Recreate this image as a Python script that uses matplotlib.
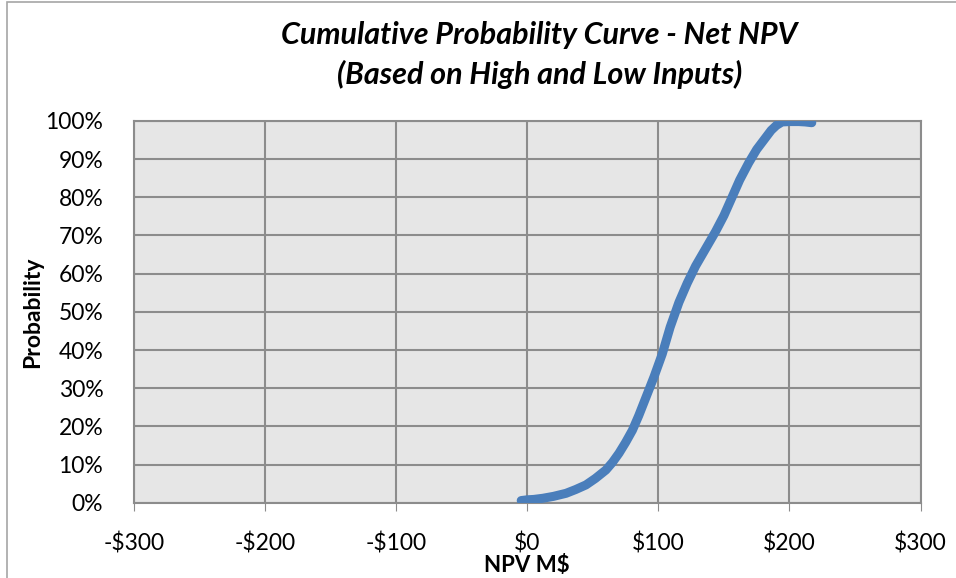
import numpy as np
import matplotlib.pyplot as plt
from matplotlib.patches import Rectangle
from matplotlib.ticker import FuncFormatter, MultipleLocator

# cumulative curve
npv = [-4.6, 0, 5, 11.9, 20, 29.6, 37, 44.8, 52, 60, 65, 70, 75, 80.2, 85, 90.4,
       96.7, 103, 109, 115.7, 122, 128.4, 136, 143.6, 150, 156.2, 162, 168.9,
       175, 181.6, 186, 190, 194.3, 200, 207, 212, 217]
prob = [0.006, 0.008, 0.009, 0.012, 0.017, 0.025, 0.035, 0.047, 0.064, 0.086,
        0.106, 0.13, 0.158, 0.19, 0.228, 0.275, 0.33, 0.39, 0.46, 0.525, 0.575,
        0.62, 0.665, 0.71, 0.752, 0.80, 0.845, 0.89, 0.925, 0.955, 0.975,
        0.988, 0.997, 0.998, 0.998, 0.997, 0.995]

xticks = [-300, -200, -100, 0, 100, 200, 300]
title = "Cumulative Probability Curve - Net NPV\n(Based on High and Low Inputs)"

plt.rcParams['font.family'] = ['Lato', 'DejaVu Sans']

fig = plt.figure(figsize=(9.56, 5.78), dpi=100)
ax = fig.add_axes([0.140, 0.130, 0.823, 0.661])

# chart border
fig.patches.append(Rectangle((0.007, -0.1), 1.2, 1.097, transform=fig.transFigure,
                             fill=False, edgecolor='#A6A6A6', linewidth=1.2))

ax.set_facecolor('#E6E6E6')
ax.plot(npv, prob, color='#4A7EBB', linewidth=6.5, solid_capstyle='round',
        solid_joinstyle='round', zorder=3)

ax.set_xlim(-300, 300)
ax.set_ylim(0, 1)
ax.set_xticks(xticks)
ax.yaxis.set_major_locator(MultipleLocator(0.1))
ax.xaxis.set_major_formatter(FuncFormatter(lambda v, p: ('-$%d' % abs(v)) if v < 0 else '$%d' % v))
ax.yaxis.set_major_formatter(FuncFormatter(lambda v, p: '%d%%' % round(v * 100)))
ax.grid(True, color='#8C8C8C', linewidth=1.5)
ax.set_axisbelow(True)
for s in ax.spines.values():
    s.set_color('#8C8C8C')
    s.set_linewidth(1.5)
ax.tick_params(axis='x', length=6, color='#8C8C8C', labelsize=16.5, pad=15)
ax.tick_params(axis='y', length=0, labelsize=16.5, pad=22)

ax.set_xlabel('NPV M$', fontsize=16, fontweight='bold', labelpad=1)
ax.set_ylabel('Probability', fontsize=16.5, fontweight='bold', labelpad=2)

fig.text(0.564, 0.905, title, ha='center', va='center', fontsize=22,
         fontweight='bold', fontstyle='italic', linespacing=1.45)

fig.savefig('out.png', dpi=100)
